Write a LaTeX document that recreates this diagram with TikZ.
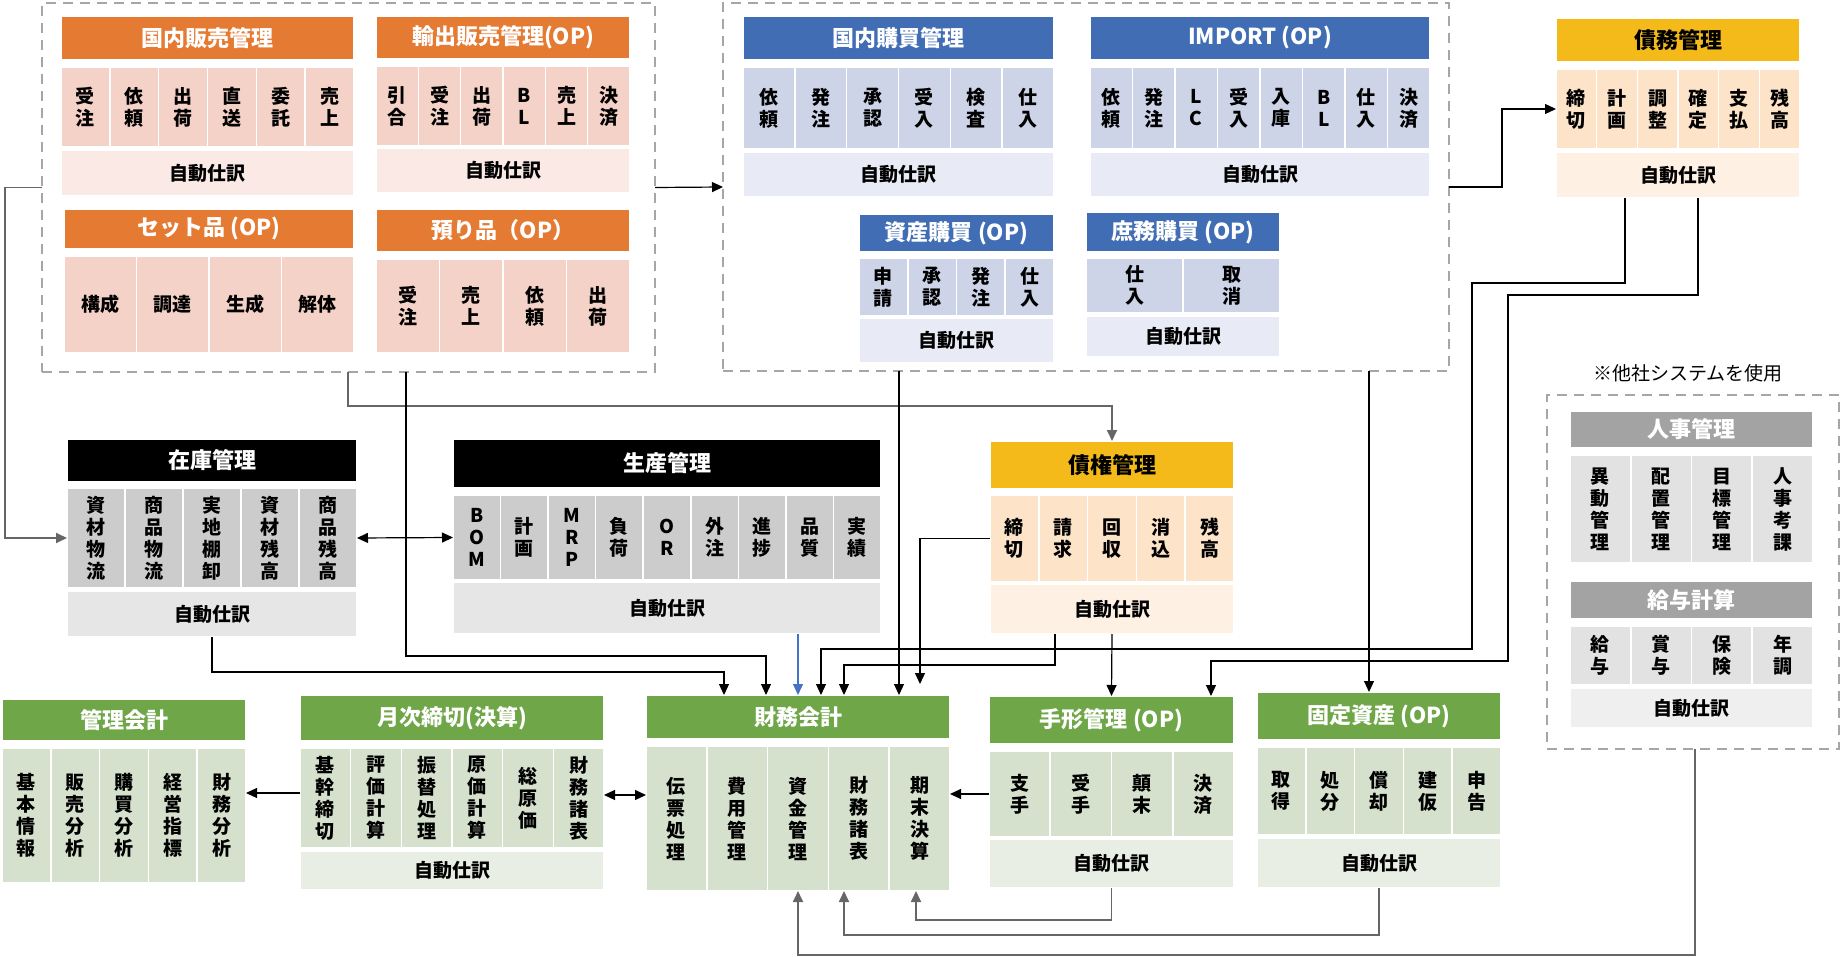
\documentclass[tikz,border=0pt]{standalone}
\usepackage{fontspec}
\setmainfont{Noto Sans CJK JP}
\usetikzlibrary{arrows.meta}
\definecolor{orH}{HTML}{E57A33}\definecolor{orC}{HTML}{F4D2C7}\definecolor{orA}{HTML}{FAE9E4}
\definecolor{blH}{HTML}{416DB5}\definecolor{blC}{HTML}{CDD4E8}\definecolor{blA}{HTML}{E8EBF5}
\definecolor{yeH}{HTML}{F3BA1A}\definecolor{yeC}{HTML}{FDE3C8}\definecolor{yeA}{HTML}{FEF1E4}
\definecolor{bkH}{HTML}{000000}\definecolor{bkC}{HTML}{CCCCCC}\definecolor{bkA}{HTML}{E6E6E6}
\definecolor{grH}{HTML}{6FA648}\definecolor{grC}{HTML}{D5E1CC}\definecolor{grA}{HTML}{E8EEE4}
\definecolor{gyH}{HTML}{A3A3A3}\definecolor{gyC}{HTML}{E2E2E2}\definecolor{gyA}{HTML}{EFEFEF}
\definecolor{dashc}{HTML}{A6A6A6}\definecolor{lineB}{HTML}{4472C4}
\newcommand\hdfont{\fontsize{22}{24}\selectfont\bfseries}
\newcommand\cellfont{\fontsize{19}{22}\selectfont\bfseries}
\newcommand\autofont{\fontsize{19}{22}\selectfont\bfseries}
\newcommand\notefont{\fontsize{19}{22}\selectfont}
\newcommand\bx[7]{%
  \pgfmathsetmacro\bxw{#4-#2}%
  \pgfmathsetmacro\bxh{#5-#3}%
  \pgfmathsetmacro\bxcx{(#2+#4)/2}%
  \pgfmathsetmacro\bxcy{(#3+#5)/2}%
  \node[box,#6,minimum width=\bxw pt,minimum height=\bxh pt] (#1) at (\bxcx,\bxcy) {#7};%
}
\newcommand\cellrow[8]{%
  \bx{#1}{#2}{#4}{#3}{#5}{draw=none}{}%
  \foreach \t [count=\i] in {#8} {%
    \pgfmathsetmacro\ca{#2+(\i-1)*(#3-#2)/#6}%
    \pgfmathsetmacro\cb{#2+\i*(#3-#2)/#6}%
    \bx{#1\i}{\ca}{#4}{\cb}{#5}{#7}{\t}%
  }%
}
\tikzset{
  box/.style={inner sep=0pt,outer sep=0pt,draw=white,line width=1.6pt,align=center,font=\cellfont},
  hd/.style={font=\hdfont,text=white},
  hdk/.style={font=\hdfont,text=black},
  au/.style={font=\autofont},
  dbox/.style={draw=dashc,line width=2.5pt,dash pattern=on 10pt off 7pt,fill=none},
  >={Triangle[length=11pt,width=10pt]},
  conn/.style={draw=black,line width=1.2pt,->},
  connG/.style={draw=black!60,line width=1.8pt,->},
  connB/.style={draw=lineB,line width=1.2pt,->},
}
\begin{document}
\begin{tikzpicture}[x=1pt,y=-1pt]
\useasboundingbox (0,0) rectangle (1842,957);
% dashed containers
\bx{salesbox}{42}{3}{655}{372}{dbox}{}
\bx{purchbox}{723}{3}{1449}{371}{dbox}{}
\bx{hrbox}{1547}{395}{1839}{749}{dbox}{}
% sales
\bx{kokuhanH}{61}{16}{354}{60}{hd,fill=orH}{国内販売管理}
\cellrow{kokuhanC}{61}{354}{67}{147}{6}{fill=orC}{{受\\注},{依\\頼},{出\\荷},{直\\送},{委\\託},{売\\上}}
\bx{kokuhanA}{61}{150}{354}{196}{au,fill=orA}{自動仕訳}
\bx{yushutsuH}{376}{16}{630}{59}{hd,fill=orH}{輸出販売管理(OP)}
\cellrow{yushutsuC}{376}{630}{66}{146}{6}{fill=orC}{{引\\合},{受\\注},{出\\荷},{B\\L},{売\\上},{決\\済}}
\bx{yushutsuA}{376}{148}{630}{193}{au,fill=orA}{自動仕訳}
\bx{setH}{64}{209}{354}{249}{hd,fill=orH}{セット品 (OP)}
\cellrow{setC}{64}{354}{256}{353}{4}{fill=orC}{構成,調達,生成,解体}
\bx{azukariH}{376}{209}{630}{252}{hd,fill=orH}{預り品（OP）}
\cellrow{azukariC}{376}{630}{259}{353}{4}{fill=orC}{{受\\注},{売\\上},{依\\頼},{出\\荷}}
% purchasing
\bx{kokukoH}{743}{16}{1054}{60}{hd,fill=blH}{国内購買管理}
\cellrow{kokukoC}{743}{1054}{67}{149}{6}{fill=blC}{{依\\頼},{発\\注},{承\\認},{受\\入},{検\\査},{仕\\入}}
\bx{kokukoA}{743}{152}{1054}{197}{au,fill=blA}{自動仕訳}
\bx{importH}{1090}{16}{1430}{60}{hd,fill=blH}{IMPORT (OP)}
\cellrow{importC}{1090}{1430}{67}{149}{8}{fill=blC}{{依\\頼},{発\\注},{L\\C},{受\\入},{入\\庫},{B\\L},{仕\\入},{決\\済}}
\bx{importA}{1090}{152}{1430}{197}{au,fill=blA}{自動仕訳}
\bx{shisanH}{859}{214}{1054}{252}{hd,fill=blH}{資産購買 (OP)}
\cellrow{shisanC}{859}{1054}{258}{316}{4}{fill=blC}{{申\\請},{承\\認},{発\\注},{仕\\入}}
\bx{shisanA}{859}{318}{1054}{363}{au,fill=blA}{自動仕訳}
\bx{shomuH}{1086}{212}{1280}{252}{hd,fill=blH}{庶務購買 (OP)}
\cellrow{shomuC}{1086}{1280}{258}{313}{2}{fill=blC}{{仕\\入},{取\\消}}
\bx{shomuA}{1086}{316}{1280}{357}{au,fill=blA}{自動仕訳}
% payables
\bx{saimuH}{1556}{18}{1800}{62}{hdk,fill=yeH}{債務管理}
\cellrow{saimuC}{1556}{1800}{69}{149}{6}{fill=yeC}{{締\\切},{計\\画},{調\\整},{確\\定},{支\\払},{残\\高}}
\bx{saimuA}{1556}{152}{1800}{198}{au,fill=yeA}{自動仕訳}
% inventory / production / receivables
\bx{zaikoH}{67}{439}{357}{482}{hd,fill=bkH}{在庫管理}
\cellrow{zaikoC}{67}{357}{488}{588}{5}{fill=bkC}{{資\\材\\物\\流},{商\\品\\物\\流},{実\\地\\棚\\卸},{資\\材\\残\\高},{商\\品\\残\\高}}
\bx{zaikoA}{67}{591}{357}{637}{au,fill=bkA}{自動仕訳}
\bx{seisanH}{453}{439}{881}{488}{hd,fill=bkH}{生産管理}
\cellrow{seisanC}{453}{881}{495}{580}{9}{fill=bkC}{{B\\O\\M},{計\\画},{M\\R\\P},{負\\荷},{O\\R},{外\\注},{進\\捗},{品\\質},{実\\績}}
\bx{seisanA}{453}{582}{881}{634}{au,fill=bkA}{自動仕訳}
\bx{saikenH}{990}{441}{1234}{489}{hdk,fill=yeH}{債権管理}
\cellrow{saikenC}{990}{1234}{495}{582}{5}{fill=yeC}{{締\\切},{請\\求},{回\\収},{消\\込},{残\\高}}
\bx{saikenA}{990}{584}{1234}{634}{au,fill=yeA}{自動仕訳}
% HR
\node[font=\notefont,inner sep=0pt] (note) at (1688,373) {※他社システムを使用};
\bx{jinjiH}{1570}{411}{1813}{448}{hd,fill=gyH}{人事管理}
\cellrow{jinjiC}{1570}{1813}{455}{563}{4}{fill=gyC}{{異\\動\\管\\理},{配\\置\\管\\理},{目\\標\\管\\理},{人\\事\\考\\課}}
\bx{kyuyoH}{1570}{581}{1813}{619}{hd,fill=gyH}{給与計算}
\cellrow{kyuyoC}{1570}{1813}{626}{685}{4}{fill=gyC}{{給\\与},{賞\\与},{保\\険},{年\\調}}
\bx{kyuyoA}{1570}{688}{1813}{728}{au,fill=gyA}{自動仕訳}
% accounting
\bx{kanriH}{2}{699}{246}{741}{hd,fill=grH}{管理会計}
\cellrow{kanriC}{2}{246}{748}{883}{5}{fill=grC}{{基\\本\\情\\報},{販\\売\\分\\析},{購\\買\\分\\析},{経\\営\\指\\標},{財\\務\\分\\析}}
\bx{getsujiH}{300}{695}{604}{741}{hd,fill=grH}{月次締切(決算)}
\cellrow{getsujiC}{300}{604}{748}{848}{6}{fill=grC}{{基\\幹\\締\\切},{評\\価\\計\\算},{振\\替\\処\\理},{原\\価\\計\\算},{総\\原\\価},{財\\務\\諸\\表}}
\bx{getsujiA}{300}{851}{604}{890}{au,fill=grA}{自動仕訳}
\bx{zaimuH}{646}{695}{950}{739}{hd,fill=grH}{財務会計}
\cellrow{zaimuC}{646}{950}{746}{891}{5}{fill=grC}{{伝\\票\\処\\理},{費\\用\\管\\理},{資\\金\\管\\理},{財\\務\\諸\\表},{期\\末\\決\\算}}
\bx{tegataH}{989}{696}{1234}{744}{hd,fill=grH}{手形管理 (OP)}
\cellrow{tegataC}{989}{1234}{751}{837}{4}{fill=grC}{{支\\手},{受\\手},{顛\\末},{決\\済}}
\bx{tegataA}{989}{839}{1234}{888}{au,fill=grA}{自動仕訳}
\bx{koteiH}{1257}{692}{1501}{740}{hd,fill=grH}{固定資産 (OP)}
\cellrow{koteiC}{1257}{1501}{747}{835}{5}{fill=grC}{{取\\得},{処\\分},{償\\却},{建\\仮},{申\\告}}
\bx{koteiA}{1257}{838}{1501}{888}{au,fill=grA}{自動仕訳}
% connectors
\draw[connG] (salesbox.west) -- (5,187.5) |- (zaikoC.west);
\draw[conn] (salesbox.east) -- (purchbox.west);
\draw[conn] (purchbox.east) -- (1502,187) |- (saimuC.west);
\draw[connG] (salesbox.south -| 348,0) |- (1112,406) -- (saikenH.north);
\draw[conn] (salesbox.south -| 406,0) |- (766,656) -- (zaimuH.north -| 766,0);
\draw[conn] (zaikoA.south) |- (724,672) -- (zaimuH.north -| 724,0);
\draw[connB] (seisanA.south -| zaimuH.north) -- (zaimuH.north);
\draw[conn] (saimuA.south -| 1625,0) |- (1472,283) |- (821,649) -- (zaimuH.north -| 821,0);
\draw[conn] (saimuA.south -| 1698,0) |- (1508,295) |- (1211,661) -- (tegataH.north -| 1211,0);
\draw[conn] (purchbox.south -| 899,0) -- (zaimuH.north -| 899,0);
\draw[conn,shorten >=11pt] (saikenC.west) -| (zaimuH.north -| 920,0);
\draw[conn] (saikenA.south -| 1055,0) |- (844,665) -- (zaimuH.north -| 844,0);
\draw[conn] (saikenA.south) -- (tegataH.north);
\draw[conn] (purchbox.south -| 1369,0) -- (koteiH.north -| 1369,0);
\draw[conn,<->] (zaikoC.east) -- (seisanC.west);
\draw[conn] (tegataC.west) -- (zaimuC.east |- tegataC.west);
\draw[conn,<->] (getsujiC.east |- 0,795) -- (zaimuC.west |- 0,795);
\draw[conn] (getsujiC.west |- 0,793) -- (kanriC.east |- 0,793);
\draw[connG] (tegataA.south) |- (916,920) -- (zaimuC.south -| 916,0);
\draw[connG] (koteiA.south) |- (844,935) -- (zaimuC.south -| 844,0);
\draw[connG] (hrbox.south -| 1695,0) |- (798,955) -- (zaimuC.south -| 798,0);
\end{tikzpicture}
\end{document}
